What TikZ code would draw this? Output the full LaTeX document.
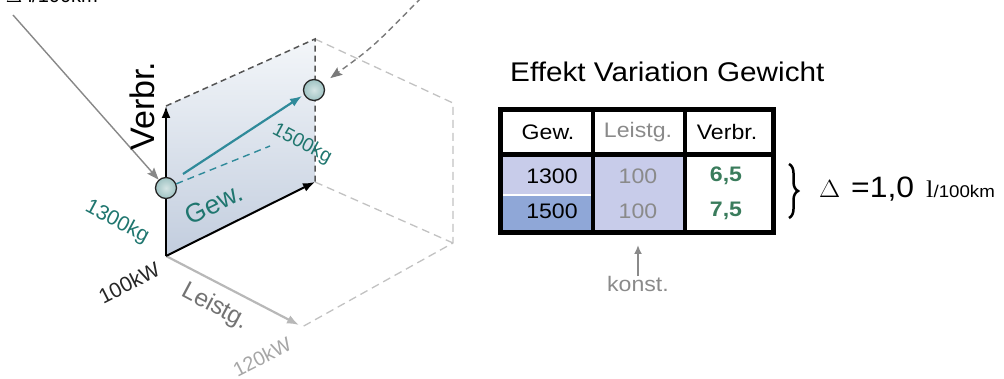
\documentclass[tikz,border=0pt]{standalone}
\usepackage[no-math]{fontspec}
\setmainfont{Liberation Sans}
\newfontfamily\serifl{Liberation Serif}
\usetikzlibrary{arrows.meta,decorations.pathreplacing}

\definecolor{tealtxt}{HTML}{1F766F}
\definecolor{tealarr}{HTML}{2F8A9A}
\definecolor{axgray}{HTML}{B8B8B8}
\definecolor{boxgray}{HTML}{C2C2C2}
\definecolor{edgegray}{HTML}{555555}
\definecolor{pointgray}{HTML}{888888}
\definecolor{lav}{HTML}{C8CCEA}
\definecolor{blu}{HTML}{8FA7D7}
\definecolor{grn}{HTML}{3A7C5C}
\definecolor{txtgray}{HTML}{8A8A8A}
\definecolor{ballfill}{HTML}{9FC3C3}
\definecolor{planetop}{HTML}{F3F6F9}
\definecolor{planebot}{HTML}{C2CDDE}

\newcommand\fsz[1]{\fontsize{#1}{#1}\selectfont}

\begin{document}
\begin{tikzpicture}[x=1pt,y=-1pt,
  axisarrow/.style={line width=2pt,-{Latex[length=12pt,width=9pt]}},
  edgedash/.style={draw=edgegray,line width=1.5pt,dash pattern=on 6pt off 4pt},
  boxdash/.style={draw=boxgray,line width=1.3pt,dash pattern=on 8pt off 5pt},
  tealdash/.style={draw=tealarr,line width=1.4pt,dash pattern=on 7pt off 5pt},
  pointer/.style={draw=pointgray,line width=1.4pt,-{Stealth[length=12pt,width=9pt,inset=2pt]}},
  ball/.style={circle,minimum size=21pt,inner sep=0pt,draw=black!85,line width=1.3pt,
               inner color=ballfill!45!white,outer color=ballfill},
  axlabel/.style={inner sep=0pt},
  wide/.style={xscale=1.1},
  cell/.style={inner sep=0pt,font=\fsz{21},wide},
]
\useasboundingbox (0,0) rectangle (1004,379);

% --- corner points of the 3D sketch
\coordinate (O) at (166,256);
\coordinate (V) at (166,106);
\coordinate (G) at (315,182);
\coordinate (A) at (315,39);
\coordinate (B) at (453,103);
\coordinate (C) at (453,243);
\coordinate (Lt) at (299,325);
\coordinate (L) at (302,327);

% shaded weight/consumption plane
\shade[top color=planetop,bottom color=planebot] (O) -- (G) -- (A) -- (V) -- cycle;

% light dashed outline of the 120 kW plane
\draw[boxdash] (A) -- (B) -- (C) -- (L);
\draw[boxdash] (G) -- (C);

% dashed upper edges of the plane
\draw[edgedash] (V) -- (A) -- (G);

% axes
\draw[axisarrow,axgray,line width=2.2pt] (O) -- (Lt);
\draw[axisarrow] (O) -- (V);
\draw[axisarrow] (O) -- (G);

% operating points
\node[ball] (p1) at (166,188) {};
\node[ball] (p2) at (314,90) {};

% shift from 1300 kg to 1500 kg
\coordinate (d1) at (270,146);
\draw[tealdash] (p1) -- (d1);
\coordinate (t1) at (183,174);
\coordinate (t2) at (302,96);
\draw[tealarr,line width=2.2pt,-{Latex[length=12pt,width=9pt]}] (t1) -- (t2);

% pointers from the notes above
\coordinate (s1) at (13,15);
\draw[pointer] (s1) -- (p1);
\coordinate (s2) at (421,-2);
\draw[pointer,draw=pointgray!90!black,dash pattern=on 6pt off 4pt,shorten >=9pt]
  (s2) .. controls (373,47) .. (p2);

% note at the upper border
\node[anchor=base west,inner sep=0pt,font=\fsz{20}] (topnote) at (6,3) {$\Delta$ l/100km};

% axis and point labels
\node[axlabel,rotate=90,font=\fsz{34}] (lverb) at (142,106) {Verbr.};
\node[axlabel,rotate=-28,font=\fsz{19.5},text=tealtxt] (l1500) at (302,144) {1500kg};
\node[axlabel,rotate=26,font=\fsz{26.5},text=tealtxt] (lgew) at (214,204) {Gew.};
\node[axlabel,rotate=-28,font=\fsz{21},text=tealtxt] (l1300) at (117,222) {1300kg};
\node[axlabel,rotate=27,font=\fsz{21},text=black!85] (l100) at (129,283) {100kW};
\node[axlabel,rotate=-28,font=\fsz{24.5},text=black!55] (lleist) at (215,307) {Leistg.};
\node[axlabel,rotate=27,font=\fsz{20},text=black!35] (l120) at (262,357) {120kW};

% --- table
\node[anchor=base west,inner sep=0pt,font=\fsz{27},wide] (title) at (510,82) {Effekt Variation Gewicht};

\fill[lav] (500.5,154.5) rectangle (593,195);
\fill[blu] (500.5,195) rectangle (593,233);
\fill[lav] (593,154.5) rectangle (685,233);
\draw[white,line width=1.5pt] (500.5,195) -- (593,195);
\draw[line width=3.5pt] (593,110) -- (593,233);
\draw[line width=3.5pt] (685,110) -- (685,233);
\draw[line width=4.5pt] (500.5,154.5) -- (773.5,154.5);
\draw[line width=5pt] (500.5,110) rectangle (773.5,233);

\node[cell] (h1) at (548,132) {Gew.};
\node[cell,text=txtgray] (h2) at (638,132) {Leistg.};
\node[cell] (h3) at (727,132) {Verbr.};
\node[cell] (a1) at (552,176) {1300};
\node[cell,text=txtgray] (a2) at (638,176) {100};
\node[cell,text=grn,font=\fsz{21}\bfseries] (a3) at (726,176) {6,5};
\node[cell] (b1) at (552,211) {1500};
\node[cell,text=txtgray] (b2) at (638,211) {100};
\node[cell,text=grn,font=\fsz{21}\bfseries] (b3) at (726,211) {7,5};

% constant power note
\node[cell,text=txtgray] (konst) at (638,284) {konst.};
\draw[txtgray,line width=2pt,-{Latex[length=9pt,width=8pt]}] (konst.north) -- (638,245);

% brace and resulting difference
\draw[line width=2.5pt,decorate,decoration={brace,amplitude=9pt}] (789,164) -- (789,218);
\node[anchor=base west,inner sep=0pt,wide] (delta) at (819,198) {\fsz{27}$\Delta$};
\node[anchor=base west,inner sep=0pt,font=\fsz{29.5},xscale=1.08] (dval) at (851,198) {=1,0};
\node[anchor=base west,inner sep=0pt,wide] (dunit) at (926,198) {{\serifl\fsz{24}l}\fsz{17}/100km};
\end{tikzpicture}
\end{document}
